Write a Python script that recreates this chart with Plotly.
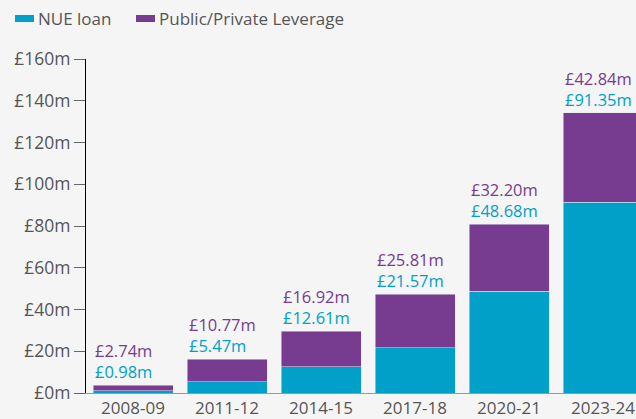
import plotly.graph_objects as go

years = ["2008-09", "2011-12", "2014-15", "2017-18", "2020-21", "2023-24"]
nue_loan = [0.98, 5.47, 12.61, 21.57, 48.68, 91.35]
leverage = [2.74, 10.77, 16.92, 25.81, 32.20, 42.84]
y_ticks = [0, 20, 40, 60, 80, 100, 120, 140, 160]

teal = "#00a0c9"
purple = "#773c8f"
grey = "#555555"
font = "Open Sans"

W, H = 636, 419
L, R, T, B = 86, 0, 59, 26


def px_x(p):
    return (p - L) / (W - L - R)


def px_y(p):
    return (H - B - p) / (H - T - B)


fig = go.Figure()
fig.add_trace(go.Bar(x=years, y=nue_loan, name="NUE loan", marker_color=teal))
fig.add_trace(go.Bar(x=years, y=leverage, name="Public/Private Leverage", marker_color=purple))

# value labels above each stack (leverage over loan), aligned with bar's left edge
for i, (a, b) in enumerate(zip(nue_loan, leverage)):
    label = (f"<span style='color:{purple}'>£{b:.2f}m</span><br>"
             f"<span style='color:{teal}'>£{a:.2f}m</span>")
    fig.add_annotation(x=i - 0.425, y=a + b, text=label, xanchor="left",
                       yanchor="bottom", yshift=0, showarrow=False, align="left",
                       font=dict(size=16.5, family=font))

# legend drawn by hand (wide flat swatches)
for (x0, x1, tx, label, col) in [(15, 34, 36, "NUE loan", teal),
                                 (136, 155, 157, "Public/Private Leverage", purple)]:
    fig.add_shape(type="rect", xref="paper", yref="paper",
                  x0=px_x(x0), x1=px_x(x1), y0=px_y(22), y1=px_y(15),
                  fillcolor=col, line_width=0)
    fig.add_annotation(xref="paper", yref="paper", x=px_x(tx), y=px_y(18.5),
                       text=label, xanchor="left", yanchor="middle",
                       showarrow=False, font=dict(size=17, color=grey, family=font))

fig.update_layout(
    barmode="stack",
    bargap=0.149,
    width=W, height=H,
    margin=dict(l=L, r=R, t=T, b=B),
    paper_bgcolor="#f5f5f5",
    plot_bgcolor="#f5f5f5",
    font=dict(family=font, size=16, color=grey),
    showlegend=False,
    xaxis=dict(type="category", range=[-0.5, 5.351], showgrid=False, showline=True,
               linecolor="#999999", ticks="", tickfont=dict(size=17),
               automargin=False, ticklabelstandoff=0),
    yaxis=dict(range=[0, 160], tickvals=y_ticks,
               ticktext=[f"£{v}m" for v in y_ticks], showgrid=False,
               showline=True, linecolor="#000000", linewidth=1,
               ticks="outside", ticklen=11, tickcolor="#666666",
               zeroline=False, tickfont=dict(size=17.5), automargin=False),
)

fig.write_html("out.html", config={"displayModeBar": False},
               post_script="document.body.style.margin='0';")
